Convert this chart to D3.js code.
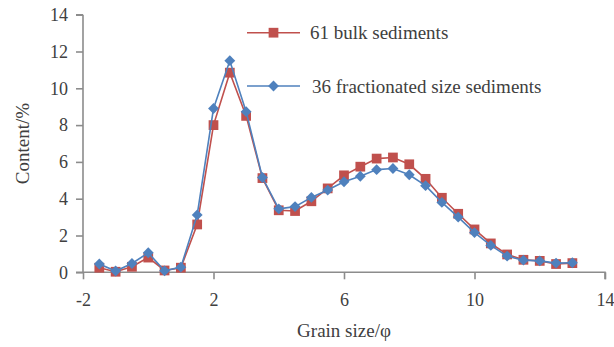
<!DOCTYPE html>
<html>
<head>
<meta charset="utf-8">
<script src="https://cdn.jsdelivr.net/npm/d3@7"></script>
<style>
  body { margin: 0; background: #fff; }
  svg { display: block; }
  text { font-family: "Liberation Serif", "Times New Roman", serif; fill: #404040; }
</style>
</head>
<body>
<svg id="chart"></svg>
<script>
// Grain size classes (phi), every half unit
const grainSize = [-1.5, -1, -0.5, 0, 0.5, 1, 1.5, 2, 2.5, 3, 3.5, 4, 4.5, 5, 5.5, 6, 6.5,
  7, 7.5, 8, 8.5, 9, 9.5, 10, 10.5, 11, 11.5, 12, 12.5, 13]

// Content (%)
const bulk = [0.25, 0.03, 0.3, 0.8, 0.1, 0.25, 2.6, 8.0, 10.85, 8.5, 5.12, 3.37, 3.33, 3.86,
  4.56, 5.27, 5.74, 6.18, 6.24, 5.87, 5.08, 4.05, 3.18, 2.33, 1.57, 0.97, 0.68, 0.62, 0.45, 0.5]
const fractionated = [0.45, 0.07, 0.48, 1.06, 0.08, 0.28, 3.12, 8.9, 11.5, 8.73, 5.15, 3.45,
  3.57, 4.07, 4.47, 4.92, 5.22, 5.58, 5.64, 5.3, 4.71, 3.8, 3.0, 2.16, 1.46, 0.88, 0.66, 0.62, 0.5, 0.52]

const seriesNames = ["61 bulk sediments", "36 fractionated size sediments"]
const xTicks = [-2, 2, 6, 10, 14]
const yTicks = [0, 2, 4, 6, 8, 10, 12, 14]

const WIDTH = 614
const HEIGHT = 347
const MARGIN = { top: 14.7, right: 9, bottom: 74.7, left: 83 }
const RED = "#C0504D"
const BLUE = "#4F81BD"
const AXIS = "#8C8C8C"
const FONT = '"Liberation Serif", "Times New Roman", serif'

const svg = d3.select("#chart").attr("width", WIDTH).attr("height", HEIGHT)

const x = d3.scaleLinear().domain([-2, 14]).range([MARGIN.left, WIDTH - MARGIN.right])
const y = d3.scaleLinear().domain([0, 14]).range([HEIGHT - MARGIN.bottom, MARGIN.top])

// Axes
const xAxis = svg.append("g")
  .attr("transform", `translate(0,${y(0)})`)
  .call(d3.axisBottom(x).tickValues(xTicks).tickSize(7).tickPadding(14).tickFormat(d3.format("d")))
const yAxis = svg.append("g")
  .attr("transform", `translate(${x(-2)},0)`)
  .call(d3.axisLeft(y).tickValues(yTicks).tickSize(7).tickPadding(8).tickFormat(d3.format("d")))

;[xAxis, yAxis].forEach((g) => {
  g.attr("font-family", FONT).attr("font-size", 18)
  g.select(".domain").attr("stroke", AXIS).attr("stroke-width", 1.6)
  g.selectAll(".tick line").attr("stroke", AXIS).attr("stroke-width", 1.6)
  g.selectAll(".tick text").attr("fill", "#404040")
})
// x axis line also runs left under the y tick for 0
xAxis.select(".domain").attr("d", `M${x(-2) - 7},0H${x(14)}V7`)
yAxis.select(".domain").attr("d", `M0,${y(14)}H-7M0,${y(14)}V${y(0)}`)
// minus sign as a plain hyphen like the source
xAxis.selectAll(".tick text").text((d) => String(d).replace("\u2212", "-"))

// Axis titles
svg.append("text")
  .attr("x", x(6))
  .attr("y", 337)
  .attr("text-anchor", "middle")
  .style("font-size", "19px")
  .text("Grain size/\u03c6")
svg.append("text")
  .attr("transform", `translate(29,${y(7)}) rotate(-90)`)
  .attr("text-anchor", "middle")
  .style("font-size", "19px")
  .text("Content/%")

const line = d3.line()
  .x((d, i) => x(grainSize[i]))
  .y((d) => y(d))

const square = d3.symbol().type(d3.symbolSquare).size(95)
const diamond = d3.symbol().type(d3.symbolDiamond2).size(75)

function drawSeries(values, color, shape) {
  svg.append("path")
    .attr("d", line(values))
    .attr("fill", "none")
    .attr("stroke", color)
    .attr("stroke-width", 1.6)
  svg.append("g")
    .selectAll("path")
    .data(values)
    .join("path")
    .attr("d", shape)
    .attr("transform", (d, i) => `translate(${x(grainSize[i])},${y(d)})`)
    .attr("fill", color)
}

drawSeries(bulk, RED, square)
drawSeries(fractionated, BLUE, diamond)

// Legend
const legend = [
  { name: seriesNames[0], color: RED, shape: square, ly: 32.7, ty: 39, tx: 310 },
  { name: seriesNames[1], color: BLUE, shape: diamond, ly: 86, ty: 92.5, tx: 312 },
]
legend.forEach((l) => {
  svg.append("line")
    .attr("x1", 247).attr("x2", 300)
    .attr("y1", l.ly).attr("y2", l.ly)
    .attr("stroke", l.color).attr("stroke-width", 1.6)
  svg.append("path")
    .attr("d", l.shape)
    .attr("transform", `translate(273.5,${l.ly})`)
    .attr("fill", l.color)
  svg.append("text")
    .attr("x", l.tx).attr("y", l.ty)
    .style("font-size", "19px")
    .text(l.name)
})
</script>
</body>
</html>
